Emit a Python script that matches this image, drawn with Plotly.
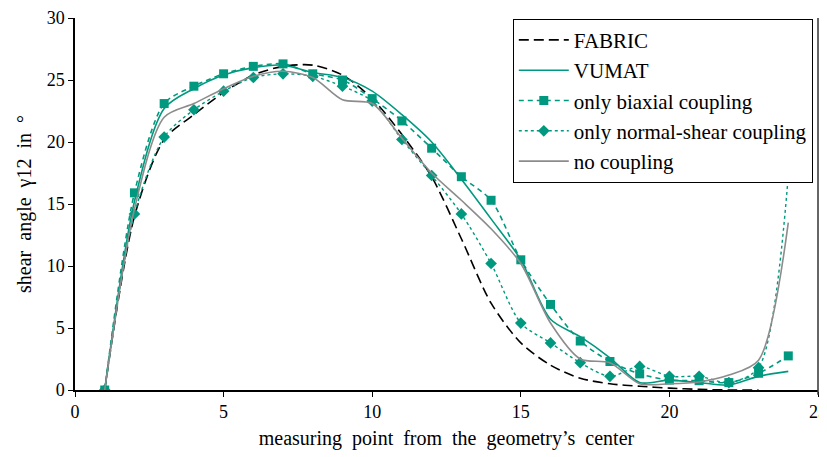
import plotly.graph_objects as go

x_pts = list(range(1, 25))
x_fabric = list(range(1, 24))

fabric = [0, 14.0, 20.2, 22.2, 24.0, 25.4, 26.1, 26.2, 25.4, 23.5, 20.6, 17.2, 12.2,
          7.0, 3.8, 2.0, 0.95, 0.5, 0.3, 0.15, 0.05, 0.0, 0.0]
vumat = [0, 15.2, 22.7, 24.3, 25.4, 26.0, 26.2, 25.6, 25.2, 24.1, 22.2, 20.0, 17.0,
         13.8, 10.5, 5.7, 4.3, 2.6, 0.6, 0.8, 0.6, 0.4, 1.1, 1.5]
biaxial = [0, 15.9, 23.1, 24.5, 25.5, 26.1, 26.3, 25.5, 25.0, 23.5, 21.7, 19.5, 17.2,
           15.3, 10.5, 6.9, 3.95, 2.3, 1.3, 0.8, 0.75, 0.6, 1.35, 2.75]
normal_shear = [0, 14.2, 20.4, 22.6, 24.1, 25.2, 25.5, 25.3, 24.5, 23.3, 20.2, 17.3, 14.2,
                10.2, 5.4, 3.8, 2.2, 1.1, 1.9, 1.1, 1.1, 0.6, 1.8, 17.3]
no_coupling = [0, 14.6, 22.0, 23.1, 24.3, 25.3, 25.7, 25.2, 23.4, 23.1, 20.3, 17.5, 15.3,
               13.0, 10.2, 5.4, 2.5, 2.2, 0.5, 0.5, 0.65, 1.2, 2.4, 13.5]

x_ticks = [0, 5, 10, 15, 20, 25]
y_ticks = [0, 5, 10, 15, 20, 25, 30]

TEAL = "#00997F"
GREY = "#8C8C8C"
FONT = "Liberation Serif"

fig = go.Figure()
fig.add_trace(go.Scatter(x=x_fabric, y=fabric, name="FABRIC", mode="lines",
                         line=dict(color="black", width=1.6, dash="10px,5px",
                                   shape="spline", smoothing=0.8)))
fig.add_trace(go.Scatter(x=x_pts, y=vumat, name="VUMAT", mode="lines",
                         line=dict(color=TEAL, width=1.6, shape="spline", smoothing=0.8)))
fig.add_trace(go.Scatter(x=x_pts, y=biaxial, name="only biaxial coupling", mode="lines+markers",
                         line=dict(color=TEAL, width=1.6, dash="5px,4px", shape="spline", smoothing=0.8),
                         marker=dict(symbol="square", size=9, color=TEAL)))
fig.add_trace(go.Scatter(x=x_pts, y=normal_shear, name="only normal-shear coupling", mode="lines+markers",
                         line=dict(color=TEAL, width=1.4, dash="dot", shape="spline", smoothing=0.8),
                         marker=dict(symbol="diamond", size=9, color=TEAL)))
fig.add_trace(go.Scatter(x=x_pts, y=no_coupling, name="no coupling", mode="lines",
                         line=dict(color=GREY, width=1.6, shape="spline", smoothing=0.8)))

fig.update_layout(
    width=819, height=449,
    margin=dict(l=67, r=9, t=10, b=67, autoexpand=False),
    paper_bgcolor="white", plot_bgcolor="white",
    font=dict(family=FONT, color="black", size=17),
    showlegend=True,
    legend=dict(x=0.993, y=0.998, xanchor="right", yanchor="top",
                bordercolor="black", borderwidth=1, bgcolor="white",
                font=dict(family=FONT, size=21), itemwidth=50,
                tracegroupgap=0),
    xaxis=dict(range=[0, 25], tickvals=x_ticks, ticktext=[str(v) for v in x_ticks],
               showgrid=False, zeroline=False, showline=True, linecolor="black", linewidth=1.5,
               ticks="outside", ticklen=5, tickcolor="black", tickwidth=1.2, automargin=False,
               tickfont=dict(family=FONT, size=18),
               title=dict(text="measuring  point  from  the  geometry’s  center",
                          font=dict(family=FONT, size=20), standoff=10)),
    yaxis=dict(range=[0, 30], tickvals=y_ticks, ticktext=[str(v) for v in y_ticks],
               showgrid=False, zeroline=False, showline=True, linecolor="black", linewidth=1.5,
               ticks="outside", ticklen=5, tickcolor="black", tickwidth=1.2, automargin=False,
               tickfont=dict(family=FONT, size=18),
               title=dict(text="shear  angle  γ12  in  °",
                          font=dict(family=FONT, size=20), standoff=10)),
)
fig.add_shape(type="line", xref="paper", yref="paper", x0=1, x1=1, y0=-0.013, y1=1,
              line=dict(color="#333333", width=1.5))

fig.write_html("out.html")
